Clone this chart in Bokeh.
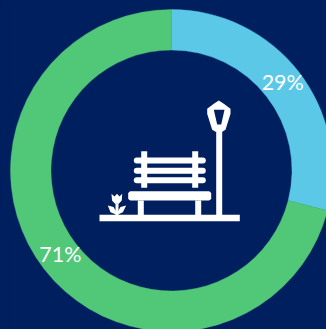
import math
from bokeh.plotting import figure
from bokeh.core.properties import value
from bokeh.embed import file_html
from bokeh.resources import INLINE

# Share of each segment, clockwise from twelve o'clock
categories = ["Blue", "Green"]
shares = [29, 71]
colors = ["#5BC8E8", "#50C878"]

NAVY = "#001F5F"
WHITE = "#FFFFFF"
CX, CY = 171, 170
OUTER, INNER = 161, 120.5

p = figure(width=326, height=329, output_backend="svg", toolbar_location=None,
           x_range=(-CX, 326 - CX), y_range=(CY - 329, CY),
           background_fill_color=NAVY, border_fill_color=NAVY,
           min_border=0, outline_line_color=None)
p.axis.visible = False
p.grid.visible = False

# Ring segments and their percentage labels
running = 0
for name, share, color in zip(categories, shares, colors):
    start = math.pi / 2 - 2 * math.pi * (running + share) / 100
    end = math.pi / 2 - 2 * math.pi * running / 100
    p.annular_wedge(x=[0], y=[0], inner_radius=INNER, outer_radius=OUTER,
                    start_angle=start, end_angle=end,
                    fill_color=color, line_color=color, line_width=0.4)
    mid = (start + end) / 2
    rad = (INNER + OUTER) / 2
    p.text(x=[rad * math.cos(mid)], y=[rad * math.sin(mid)], text=[f"{share}%"],
           y_offset=-2.5, text_color=WHITE, text_font=value("Lato"),
           text_font_size="21.5px", text_align="center", text_baseline="middle")
    running += share


# Park bench pictogram, drawn in page pixels
def px(x):
    return x - CX


def py(y):
    return CY - y


def box(x0, x1, y0, y1):
    p.quad(left=[px(x0)], right=[px(x1)], top=[py(y0)], bottom=[py(y1)],
           fill_color=WHITE, line_color=None)


def poly(points, color=WHITE):
    p.patch([px(a) for a, _ in points], [py(b) for _, b in points],
            fill_color=color, line_color=None)


def bar(x0, x1, y, width):
    p.line([px(x0), px(x1)], [py(y), py(y)], line_color=WHITE,
           line_width=width, line_cap="round")


box(99, 239.3, 214.3, 220.7)  # ground

# lamp post and lantern
box(215.7, 221.7, 130, 215)
poly([(206.7, 108.3), (213.3, 103.3), (218.3, 100), (223.3, 103.3), (230, 108.3),
      (230, 113.3), (225, 129.3), (221.7, 131.3), (215, 131.3), (211.7, 129.3),
      (206.7, 113.3)])
poly([(213.3, 109.3), (224, 109.3), (220.7, 124), (216.7, 124)], NAVY)

# bench back
box(140.7, 146.7, 150.7, 187.3)
box(191.7, 197.7, 150.7, 187.3)
for slat_y in (160, 170.3, 179.7):
    bar(136.3, 202.3, slat_y, 6)

# bench seat and legs
poly([(127.7, 193), (128.5, 191.5), (130, 190.7), (208.4, 190.7), (209.9, 191.5),
      (210.7, 193), (210.7, 197.7), (209.9, 199.2), (208.4, 200), (130, 200),
      (128.5, 199.2), (127.7, 197.7)])
box(137.3, 143.3, 200, 215)
box(194.7, 200.7, 200, 215)

# flower
box(115, 118, 203, 215)
poly([(111, 193.3), (114, 196), (116.5, 193.3), (119, 196), (121.7, 193.3),
      (121.3, 200), (118.3, 203.3), (114.5, 203.3), (111.5, 200)])
poly([(107.3, 205), (113, 206.5), (115.5, 210.7), (115.5, 214), (110, 211.7)])
poly([(125.7, 205), (120, 206.5), (117.5, 210.7), (117.5, 214), (122.3, 211.7)])

html = file_html(p, INLINE).replace("<body>", f'<body style="background:{NAVY}">')
open("out.html", "w").write(html)
